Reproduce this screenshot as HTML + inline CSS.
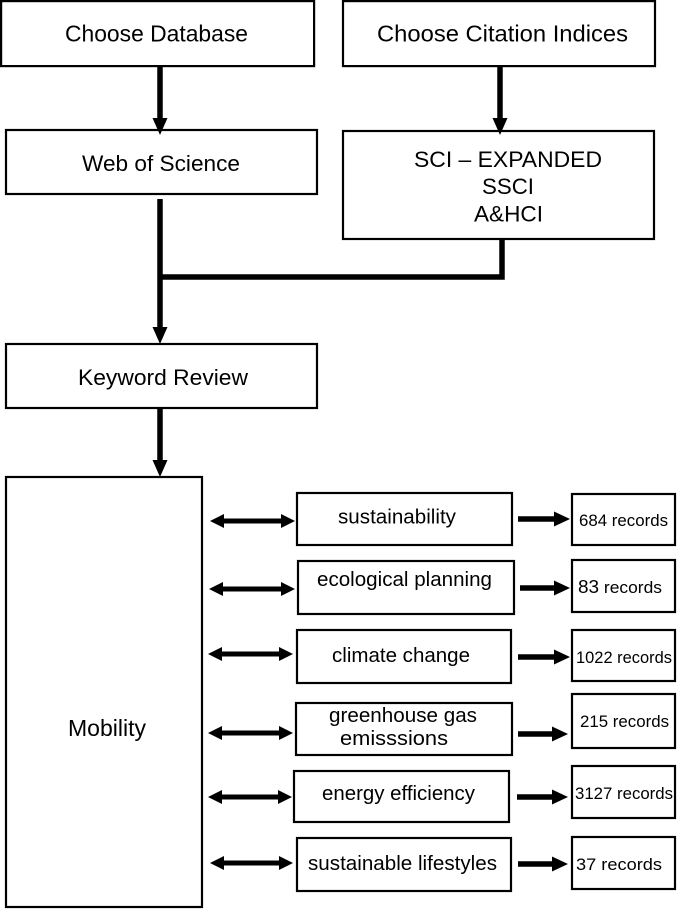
<!DOCTYPE html>
<html><head><meta charset="utf-8"><style>
html,body{margin:0;padding:0;background:#fff;width:689px;height:910px;overflow:hidden}
svg{display:block}
text{font-family:"Liberation Sans",Arial,sans-serif;fill:#000}
</style></head><body>
<svg width="689" height="910" viewBox="0 0 689 910" xmlns="http://www.w3.org/2000/svg">
<g fill="none" stroke="#000" stroke-width="2.2">
<rect x="1.1" y="1.1" width="313" height="65"/>
<rect x="343" y="1.1" width="312" height="65"/>
<rect x="6" y="130" width="311" height="64"/>
<rect x="343" y="131" width="311" height="108"/>
<rect x="6" y="344" width="311" height="64"/>
<rect x="6" y="477" width="196" height="430"/>
<!-- keyword boxes -->
<rect x="297" y="493" width="215" height="52"/>
<rect x="298" y="561" width="216" height="53"/>
<rect x="297" y="630" width="214" height="53"/>
<rect x="296" y="703" width="216" height="52"/>
<rect x="294" y="771" width="215" height="51"/>
<rect x="297" y="838" width="214" height="53"/>
<!-- record boxes -->
<rect x="572" y="494" width="103" height="51"/>
<rect x="572" y="560" width="103" height="52"/>
<rect x="572" y="630" width="103" height="51"/>
<rect x="572" y="694" width="103" height="54"/>
<rect x="572" y="766" width="103" height="52"/>
<rect x="572" y="837" width="103" height="52"/>
</g>
<!-- thick connectors -->
<g stroke="#000" stroke-width="5.5" fill="none">
<line x1="160" y1="67" x2="160" y2="121"/>
<line x1="500" y1="67" x2="500" y2="121"/>
<line x1="160" y1="199" x2="160" y2="330"/>
<polyline points="502,240 502,277 160,277"/>
<line x1="160" y1="409" x2="160" y2="463"/>
</g>
<g fill="#000">
<polygon points="152.5,118 167.5,118 160,135"/>
<polygon points="492.5,118 507.5,118 500,135"/>
<polygon points="152.5,327 167.5,327 160,344"/>
<polygon points="152.5,460 167.5,460 160,477"/>
</g>
<!-- double arrows -->
<g stroke="#000" stroke-width="5">
<line x1="220" y1="521" x2="285" y2="521"/>
<line x1="219" y1="589" x2="285" y2="589"/>
<line x1="218" y1="654" x2="283" y2="654"/>
<line x1="218" y1="733" x2="283" y2="733"/>
<line x1="218" y1="797" x2="282" y2="797"/>
<line x1="220" y1="863" x2="283" y2="863"/>
</g>
<g fill="#000">
<polygon points="210,521 224,514 224,528"/><polygon points="295,521 281,514 281,528"/>
<polygon points="209,589 223,582 223,596"/><polygon points="295,589 281,582 281,596"/>
<polygon points="208,654 222,647 222,661"/><polygon points="293,654 279,647 279,661"/>
<polygon points="208,733 222,726 222,740"/><polygon points="293,733 279,726 279,740"/>
<polygon points="208,797 222,790 222,804"/><polygon points="292,797 278,790 278,804"/>
<polygon points="210,863 224,856 224,870"/><polygon points="293,863 279,856 279,870"/>
</g>
<!-- right arrows -->
<g stroke="#000" stroke-width="5.5">
<line x1="518" y1="519" x2="557" y2="519"/>
<line x1="520" y1="588" x2="557" y2="588"/>
<line x1="518" y1="657" x2="557" y2="657"/>
<line x1="518" y1="734" x2="555" y2="734"/>
<line x1="517" y1="797" x2="555" y2="797"/>
<line x1="518" y1="864" x2="555" y2="864"/>
</g>
<g fill="#000">
<polygon points="554,511.5 570,519 554,526.5"/>
<polygon points="554,580.5 570,588 554,595.5"/>
<polygon points="554,649.5 570,657 554,664.5"/>
<polygon points="552,726.5 568,734 552,741.5"/>
<polygon points="552,789.5 568,797 552,804.5"/>
<polygon points="552,856.5 568,864 552,871.5"/>
</g>
<!-- texts -->
<g text-anchor="middle">
<text x="156.5" y="41.5" font-size="23" textLength="183" lengthAdjust="spacingAndGlyphs">Choose Database</text>
<text x="502.5" y="41.5" font-size="23.5" textLength="251" lengthAdjust="spacingAndGlyphs">Choose Citation Indices</text>
<text x="161" y="171" font-size="22.6" textLength="158" lengthAdjust="spacingAndGlyphs">Web of Science</text>
<text x="508" y="167" font-size="22" textLength="188" lengthAdjust="spacingAndGlyphs">SCI – EXPANDED</text>
<text x="508" y="194" font-size="22" textLength="52" lengthAdjust="spacingAndGlyphs">SSCI</text>
<text x="508.5" y="221.5" font-size="22" textLength="69" lengthAdjust="spacingAndGlyphs">A&amp;HCI</text>
<text x="163" y="385" font-size="22.5" textLength="170" lengthAdjust="spacingAndGlyphs">Keyword Review</text>
<text x="107" y="736" font-size="23" textLength="78" lengthAdjust="spacingAndGlyphs">Mobility</text>

<text x="397" y="523.5" font-size="20.5" textLength="118" lengthAdjust="spacingAndGlyphs">sustainability</text>
<text x="404.5" y="586" font-size="20.5" textLength="175" lengthAdjust="spacingAndGlyphs">ecological planning</text>
<text x="401" y="662" font-size="20.5" textLength="138" lengthAdjust="spacingAndGlyphs">climate change</text>
<text x="403" y="722" font-size="20.5" textLength="148" lengthAdjust="spacingAndGlyphs">greenhouse gas</text>
<text x="394" y="745" font-size="20.5" textLength="108" lengthAdjust="spacingAndGlyphs">emisssions</text>
<text x="398.5" y="800" font-size="20.5" textLength="153" lengthAdjust="spacingAndGlyphs">energy efficiency</text>
<text x="402.5" y="870" font-size="20.5" textLength="189" lengthAdjust="spacingAndGlyphs">sustainable lifestyles</text>

<text x="623.5" y="526" font-size="16.9" textLength="89" lengthAdjust="spacingAndGlyphs">684 records</text>
<text x="620" y="593" font-size="17" textLength="84" lengthAdjust="spacingAndGlyphs"><tspan font-size="18.5">83</tspan> records</text>
<text x="624" y="663" font-size="16.5" textLength="96" lengthAdjust="spacingAndGlyphs">1022 records</text>
<text x="624.5" y="727" font-size="16.9" textLength="89" lengthAdjust="spacingAndGlyphs">215 records</text>
<text x="624" y="799" font-size="17" textLength="98" lengthAdjust="spacingAndGlyphs">3127 records</text>
<text x="619" y="870" font-size="16.8" textLength="86" lengthAdjust="spacingAndGlyphs">37 records</text>
</g>
</svg>
</body></html>
